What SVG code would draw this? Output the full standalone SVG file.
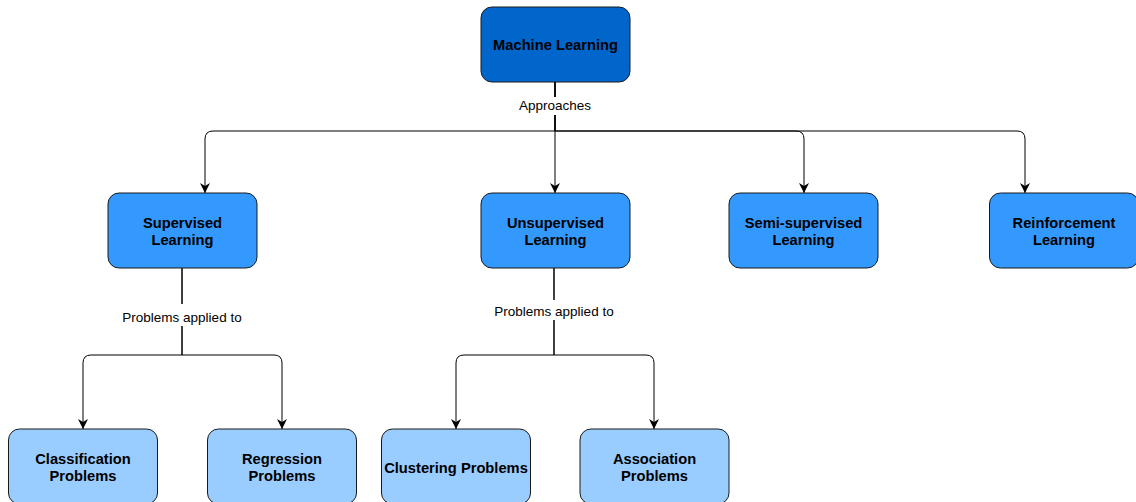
<svg xmlns="http://www.w3.org/2000/svg" width="1136" height="502" viewBox="0 0 1136 502">
  <style>
    .box { stroke: #1a1a1a; stroke-width: 1; }
    .l1 { fill: #0066CC; }
    .l2 { fill: #3399FF; }
    .l3 { fill: #99CCFF; }
    .t { font-family: "Liberation Sans", Arial, sans-serif; font-weight: bold; font-size: 14.7px; fill: #000; text-anchor: middle; }
    .lbl { font-family: "Liberation Sans", Arial, sans-serif; font-size: 13.5px; fill: #000; text-anchor: middle; }
    .edge { fill: none; stroke: #000; stroke-width: 1; }
  </style>
  <defs>
    <marker id="arrow" viewBox="0 0 10 10" refX="10" refY="5" markerWidth="10" markerHeight="10" markerUnits="userSpaceOnUse" orient="auto">
      <path d="M0,0 L10,5 L0,10 L3,5 Z" fill="#000"/>
    </marker>
  </defs>
  <rect width="1136" height="502" fill="#fff"/>

  <!-- connectors -->
  <g id="connectors">
    <path class="edge" marker-end="url(#arrow)" d="M555,82 V131 H213 Q205,131 205,139 V193"/>
    <path class="edge" marker-end="url(#arrow)" d="M555,82 V193"/>
    <path class="edge" marker-end="url(#arrow)" d="M555,82 V131 H796 Q804,131 804,139 V193"/>
    <path class="edge" marker-end="url(#arrow)" d="M555,82 V131 H1017 Q1025,131 1025,139 V193"/>
    <path class="edge" marker-end="url(#arrow)" d="M182,268 V355 H91 Q83,355 83,363 V429"/>
    <path class="edge" marker-end="url(#arrow)" d="M182,268 V355 H274 Q282,355 282,363 V429"/>
    <path class="edge" marker-end="url(#arrow)" d="M554,268 V355 H464 Q456,355 456,363 V429"/>
    <path class="edge" marker-end="url(#arrow)" d="M554,268 V355 H646 Q654,355 654,363 V429"/>
    <!-- edge labels -->
    <rect x="516" y="97" width="78" height="18" fill="#fff"/>
    <text class="lbl" x="555" y="110">Approaches</text>
    <rect x="120" y="304" width="125" height="22" fill="#fff"/>
    <text class="lbl" x="182" y="322">Problems applied to</text>
    <rect x="491" y="300" width="126" height="20" fill="#fff"/>
    <text class="lbl" x="554" y="316">Problems applied to</text>
  </g>

  <g id="machine-learning">
    <rect class="box l1" x="481" y="7" width="149" height="75" rx="11"/>
    <text class="t" x="555.5" y="50">Machine Learning</text>
  </g>

  <g id="supervised">
    <rect class="box l2" x="108" y="193" width="149" height="75" rx="11"/>
    <text class="t" x="182.5" y="228">Supervised</text>
    <text class="t" x="182.5" y="245">Learning</text>
  </g>
  <g id="unsupervised">
    <rect class="box l2" x="481" y="193" width="149" height="75" rx="11"/>
    <text class="t" x="555.5" y="228">Unsupervised</text>
    <text class="t" x="555.5" y="245">Learning</text>
  </g>
  <g id="semi-supervised">
    <rect class="box l2" x="729" y="193" width="149" height="75" rx="11"/>
    <text class="t" x="803.5" y="228">Semi-supervised</text>
    <text class="t" x="803.5" y="245">Learning</text>
  </g>
  <g id="reinforcement">
    <rect class="box l2" x="989.5" y="193" width="149" height="75" rx="11"/>
    <text class="t" x="1064" y="228">Reinforcement</text>
    <text class="t" x="1064" y="245">Learning</text>
  </g>

  <g id="classification">
    <rect class="box l3" x="8.5" y="429" width="149" height="75" rx="11"/>
    <text class="t" x="83" y="464">Classification</text>
    <text class="t" x="83" y="481">Problems</text>
  </g>
  <g id="regression">
    <rect class="box l3" x="207.5" y="429" width="149" height="75" rx="11"/>
    <text class="t" x="282" y="464">Regression</text>
    <text class="t" x="282" y="481">Problems</text>
  </g>
  <g id="clustering">
    <rect class="box l3" x="381.5" y="429" width="149" height="75" rx="11"/>
    <text class="t" x="456" y="473">Clustering Problems</text>
  </g>
  <g id="association">
    <rect class="box l3" x="580" y="429" width="149" height="75" rx="11"/>
    <text class="t" x="654.5" y="464">Association</text>
    <text class="t" x="654.5" y="481">Problems</text>
  </g>
</svg>
